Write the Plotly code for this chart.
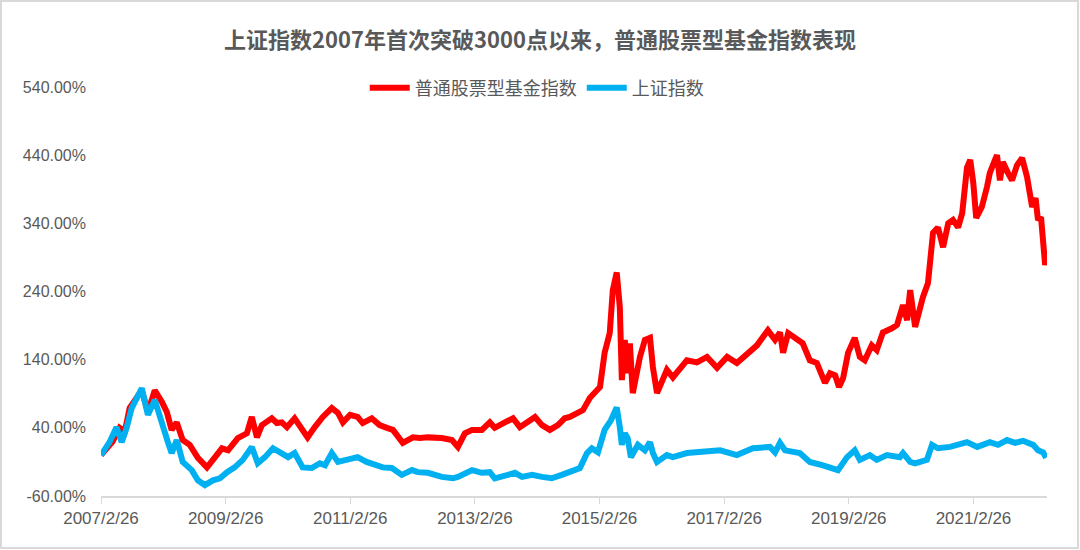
import plotly.graph_objects as go

title_text = "上证指数2007年首次突破3000点以来，普通股票型基金指数表现"
fund_name = "普通股票型基金指数"
sse_name = "上证指数"

fund_dates = [
    "2007-02-26", "2007-05-05", "2007-06-15", "2007-07-15", "2007-08-13", "2007-09-23", "2007-10-23",
    "2007-11-28", "2008-01-07", "2008-02-18", "2008-03-18", "2008-04-15", "2008-05-15", "2008-06-19",
    "2008-07-30", "2008-09-16", "2008-11-08", "2008-12-13", "2009-02-04", "2009-03-12", "2009-05-08",
    "2009-06-30", "2009-07-29", "2009-08-28", "2009-09-26", "2009-11-23", "2009-12-23", "2010-01-21",
    "2010-02-20", "2010-04-06", "2010-05-17", "2010-06-21", "2010-08-02", "2010-09-18", "2010-11-10",
    "2010-12-16", "2011-01-14", "2011-02-25", "2011-04-10", "2011-05-10", "2011-07-02", "2011-08-17",
    "2011-09-29", "2011-11-03", "2011-12-31", "2012-02-29", "2012-04-08", "2012-05-26", "2012-08-16",
    "2012-10-14", "2012-11-18", "2012-12-29", "2013-02-09", "2013-04-07", "2013-05-24", "2013-06-22",
    "2013-08-20", "2013-10-07", "2013-11-16", "2013-12-28", "2014-02-13", "2014-03-26", "2014-05-11",
    "2014-06-27", "2014-08-06", "2014-09-05", "2014-11-21", "2015-01-01", "2015-03-01", "2015-03-28",
    "2015-04-27", "2015-05-15", "2015-06-07", "2015-06-25", "2015-07-07", "2015-07-24", "2015-08-10",
    "2015-08-23", "2015-09-09", "2015-10-21", "2015-11-19", "2015-12-19", "2016-01-05", "2016-01-29",
    "2016-02-28", "2016-03-27", "2016-05-01", "2016-06-11", "2016-07-22", "2016-09-19", "2016-11-17",
    "2017-01-15", "2017-03-15", "2017-05-11", "2017-07-09", "2017-09-06", "2017-11-09", "2017-12-21",
    "2018-01-19", "2018-02-06", "2018-03-08", "2018-04-28", "2018-06-01", "2018-07-13", "2018-08-23",
    "2018-10-10", "2018-11-08", "2018-12-08", "2018-12-31", "2019-01-24", "2019-02-22", "2019-04-02",
    "2019-05-02", "2019-05-31", "2019-07-11", "2019-08-09", "2019-09-14", "2019-11-06", "2019-12-06",
    "2020-01-10", "2020-02-03", "2020-02-21", "2020-03-21", "2020-05-06", "2020-06-04", "2020-07-04",
    "2020-08-02", "2020-09-01", "2020-10-01", "2020-10-29", "2020-11-28", "2020-12-22", "2021-01-19",
    "2021-02-07", "2021-02-25", "2021-03-14", "2021-04-16", "2021-05-16", "2021-06-02", "2021-07-02",
    "2021-07-14", "2021-07-31", "2021-08-17", "2021-09-16", "2021-10-10", "2021-11-08", "2021-12-08",
    "2022-01-06", "2022-02-05", "2022-02-25", "2022-03-11", "2022-03-29", "2022-04-10", "2022-04-22",
    "2022-05-03",
]
fund_values = [
    0, 20, 40, 34, 69, 85, 95,
    63, 95, 78, 63, 37, 48, 22,
    15, -4, -18, -7, 10, 7, 25,
    32, 56, 26, 44, 54, 47, 48,
    41, 54, 37, 26, 41, 56, 69,
    62, 48, 59, 56, 47, 54, 44,
    40, 37, 18, 26, 25, 26, 25,
    22, 12, 32, 37, 37, 48, 40,
    48, 54, 41, 47, 56, 44, 37,
    44, 54, 56, 66, 84, 100, 150,
    179, 242, 268, 217, 110, 169, 120,
    164, 91, 144, 169, 172, 129, 91,
    110, 125, 114, 125, 139, 136, 144,
    128, 144, 135, 147, 161, 183, 169,
    180, 150, 179, 169, 164, 139, 135,
    106, 120, 117, 100, 113, 150, 172,
    144, 139, 161, 154, 180, 186, 191,
    220, 198, 242, 188, 232, 252, 326,
    334, 305, 340, 345, 334, 355, 422,
    433, 399, 348, 364, 393, 414, 433,
    440, 403, 430, 414, 403, 425, 436,
    408, 364, 377, 345, 349, 315, 279,
    290,
]

sse_dates = [
    "2007-02-26", "2007-04-17", "2007-05-28", "2007-06-27", "2007-07-26", "2007-08-25", "2007-10-23",
    "2007-11-28", "2008-01-07", "2008-02-18", "2008-03-24", "2008-04-15", "2008-05-15", "2008-06-19",
    "2008-08-11", "2008-09-16", "2008-10-27", "2008-12-13", "2009-01-23", "2009-03-06", "2009-04-19",
    "2009-06-06", "2009-07-29", "2009-09-02", "2009-10-14", "2009-11-30", "2010-01-21", "2010-02-27",
    "2010-04-06", "2010-05-23", "2010-07-15", "2010-09-01", "2010-10-01", "2010-11-10", "2010-12-16",
    "2011-02-12", "2011-04-10", "2011-06-02", "2011-07-02", "2011-09-05", "2011-10-28", "2011-12-25",
    "2012-02-23", "2012-03-28", "2012-05-26", "2012-08-16", "2012-10-20", "2012-11-18", "2013-02-09",
    "2013-04-07", "2013-05-24", "2013-06-22", "2013-09-07", "2013-10-18", "2013-11-29", "2014-01-27",
    "2014-03-26", "2014-05-22", "2014-07-20", "2014-09-05", "2014-11-03", "2014-12-15", "2015-01-12",
    "2015-02-17", "2015-03-28", "2015-05-04", "2015-06-07", "2015-06-25", "2015-07-07", "2015-07-24",
    "2015-08-10", "2015-08-29", "2015-10-09", "2015-11-19", "2015-12-19", "2016-01-05", "2016-01-29",
    "2016-03-27", "2016-05-01", "2016-07-22", "2016-10-25", "2017-02-02", "2017-05-11", "2017-08-13",
    "2017-11-21", "2017-12-21", "2018-01-19", "2018-02-18", "2018-05-15", "2018-07-13", "2018-09-28",
    "2018-11-20", "2018-12-25", "2019-02-16", "2019-04-02", "2019-05-02", "2019-06-30", "2019-08-09",
    "2019-10-08", "2019-12-23", "2020-01-10", "2020-02-21", "2020-03-21", "2020-05-29", "2020-06-28",
    "2020-08-02", "2020-10-12", "2021-01-19", "2021-03-20", "2021-06-02", "2021-07-20", "2021-09-11",
    "2021-10-28", "2021-12-13", "2022-02-11", "2022-03-11", "2022-04-10", "2022-04-28",
]
sse_values = [
    0, 19, 41, 19, 40, 69, 98,
    59, 81, 44, 19, 3, 22, -10,
    -22, -37, -44, -37, -34, -25, -18,
    -7, 12, -12, -3, 10, 3, -3,
    3, -18, -19, -12, -15, 3, -10,
    -7, -3, -10, -12, -18, -19, -29,
    -22, -25, -26, -32, -34, -32, -22,
    -26, -25, -34, -29, -26, -32, -29,
    -32, -34, -29, -25, -19, 3, 10,
    4, 37, 51, 70, 41, 15, 32,
    25, -3, 15, 7, 19, 3, -10,
    0, -3, 3, 4, 7, 0, 10,
    12, 4, 18, 7, 3, -10, -15,
    -18, -22, -3, 7, -7, 0, -7,
    0, -3, 3, -10, -12, -7, 15,
    10, 12, 19, 12, 19, 15, 22,
    18, 21, 15, 7, 4, -4,
]

y_ticks = [-60, 40, 140, 240, 340, 440, 540]
x_tick_dates = ["2007-02-26", "2009-02-26", "2011-02-26", "2013-02-26",
                "2015-02-26", "2017-02-26", "2019-02-26", "2021-02-26"]
x_tick_labels = ["2007/2/26", "2009/2/26", "2011/2/26", "2013/2/26",
                 "2015/2/26", "2017/2/26", "2019/2/26", "2021/2/26"]

fig = go.Figure()
fig.add_trace(go.Scatter(x=fund_dates, y=fund_values, mode="lines", name=fund_name,
                         line=dict(color="#FF0000", width=6)))
fig.add_trace(go.Scatter(x=sse_dates, y=sse_values, mode="lines", name=sse_name,
                         line=dict(color="#00B0F0", width=6)))

W, H = 1080, 550
L, R, T, B = 101, 33, 87, 54
pw, ph = W - L - R, H - T - B

fig.update_layout(
    width=W, height=H,
    margin=dict(l=L, r=R, t=T, b=B, autoexpand=False),
    paper_bgcolor="white", plot_bgcolor="white",
    font=dict(family="Liberation Sans, Arial, Noto Sans CJK SC", color="#595959", size=16),
    title=dict(text="<b>" + title_text + "</b>", x=0.5, xref="container", xanchor="center",
               y=1 - 40 / H, yref="container", yanchor="middle",
               font=dict(family="Noto Sans CJK SC", size=22, color="#595959")),
    legend=dict(orientation="h", x=0.497, xref="container", xanchor="center",
                y=1 - 88 / H, yref="container", yanchor="middle",
                font=dict(family="Noto Sans CJK SC", size=18, color="#595959"),
                bgcolor="rgba(0,0,0,0)", itemwidth=40),
    showlegend=True,
    xaxis=dict(type="date", range=["2007-02-26", "2022-05-03"],
               tickvals=x_tick_dates, ticktext=x_tick_labels,
               showgrid=False, zeroline=False,
               showline=True, linecolor="#D9D9D9", linewidth=2,
               ticks="outside", ticklen=6, tickcolor="#D9D9D9", tickwidth=1,
               tickfont=dict(size=17, color="#595959")),
    yaxis=dict(range=[-60, 540], tickvals=y_ticks,
               ticktext=[f"{v:.2f}%" for v in y_ticks],
               showgrid=False, zeroline=False, showline=False,
               ticklabelstandoff=14,
               tickfont=dict(size=16, color="#595959")),
    shapes=[dict(type="rect", xref="paper", yref="paper",
                 x0=(1 - L) / pw, x1=(W - 2 - L) / pw,
                 y0=(H - B - (H - 2)) / ph, y1=(H - B - 1) / ph,
                 line=dict(color="#D9D9D9", width=2), fillcolor="rgba(0,0,0,0)", layer="below")],
)

fig.write_html("out.html")
